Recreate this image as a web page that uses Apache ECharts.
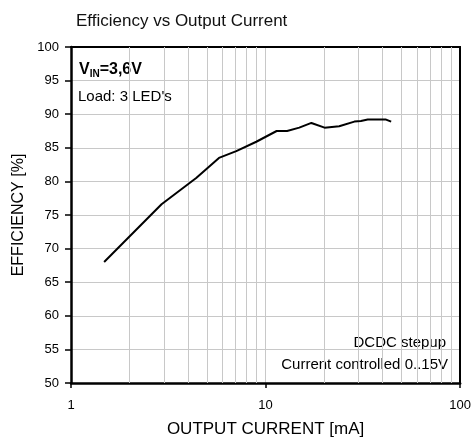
<!DOCTYPE html>
<html>
<head>
<meta charset="utf-8">
<script src="https://cdn.jsdelivr.net/npm/echarts@6/dist/echarts.min.js"></script>
<style>
  html, body { margin: 0; padding: 0; background: #fff; }
  #chart { width: 474px; height: 443px; }
</style>
</head>
<body>
<div id="chart"></div>
<script>
// Output current in mA (log scale) and measured efficiency in %
const currentMA = [1.48, 2.92, 4.4, 5.76, 7.07, 8.96, 11.4, 12.9, 14.9, 17.2, 20.1, 23.9, 28.6, 30.9, 33.5, 41.6, 44.2];
const efficiency = [68.0, 76.6, 80.5, 83.5, 84.5, 85.9, 87.5, 87.5, 88.0, 88.7, 88.0, 88.2, 88.9, 89.0, 89.2, 89.2, 88.9];

// Minor decade grid positions for the log axis
const minorGridX = [2, 3, 4, 5, 6, 7, 8, 9, 20, 30, 40, 50, 60, 70, 80, 90];

const FONT = 'Liberation Sans, Arial, sans-serif';
const GRID_GRAY = '#c8c8c8';

const chart = echarts.init(document.getElementById('chart'), null, { renderer: 'canvas' });

const points = currentMA.map((x, i) => [x, efficiency[i]]);

chart.setOption({
  animation: false,
  backgroundColor: '#fff',
  textStyle: { fontFamily: FONT },
  title: {
    text: 'Efficiency vs Output Current',
    left: 71,
    top: 8,
    textStyle: { fontFamily: FONT, fontSize: 17, fontWeight: 'normal', color: '#111' }
  },
  grid: { left: 71, right: 13, top: 47, bottom: 56, containLabel: false },
  xAxis: [
    {
      type: 'log',
      logBase: 10,
      min: 1,
      max: 100,
      name: 'OUTPUT CURRENT [mA]',
      nameLocation: 'middle',
      nameGap: 38,
      nameTextStyle: { fontFamily: FONT, fontSize: 17, color: '#000' },
      axisLine: { show: true, lineStyle: { color: '#000', width: 2.5 } },
      axisTick: { show: true, length: 5, lineStyle: { color: '#000', width: 1.5 } },
      axisLabel: { margin: 16, fontSize: 13, color: '#000', fontFamily: FONT },
      splitLine: { show: true, lineStyle: { color: GRID_GRAY, width: 1 } }
    },
    {
      type: 'log',
      logBase: 10,
      min: 1,
      max: 100,
      position: 'top',
      axisLine: { show: true, lineStyle: { color: '#000', width: 2 } },
      axisTick: { show: false },
      axisLabel: { show: false },
      splitLine: { show: false }
    }
  ],
  yAxis: [
    {
      type: 'value',
      min: 50,
      max: 100,
      interval: 5,
      name: 'EFFICIENCY [%]',
      nameLocation: 'middle',
      nameGap: 40,
      nameTextStyle: { fontFamily: FONT, fontSize: 16, color: '#000' },
      axisLine: { show: true, lineStyle: { color: '#000', width: 2.5 } },
      axisTick: { show: true, length: 6, lineStyle: { color: '#000', width: 1.5 } },
      axisLabel: { margin: 12, fontSize: 13, color: '#000', fontFamily: FONT },
      splitLine: { show: true, lineStyle: { color: GRID_GRAY, width: 1 } }
    },
    {
      type: 'value',
      min: 50,
      max: 100,
      position: 'right',
      axisLine: { show: true, lineStyle: { color: '#000', width: 2 } },
      axisTick: { show: false },
      axisLabel: { show: false },
      splitLine: { show: false }
    }
  ],
  series: [
    {
      // carries the minor vertical grid lines of the log axis
      type: 'line',
      z: 1,
      data: points,
      symbol: 'none',
      lineStyle: { opacity: 0 },
      silent: true,
      markLine: {
        silent: true,
        symbol: 'none',
        label: { show: false },
        animation: false,
        lineStyle: { color: GRID_GRAY, width: 1, type: 'solid' },
        data: minorGridX.map(v => ({ xAxis: v }))
      }
    },
    {
      type: 'line',
      z: 5,
      data: points,
      symbol: 'none',
      smooth: false,
      lineStyle: { color: '#000', width: 2 }
    }
  ],
  graphic: [
    {
      type: 'text',
      left: 79,
      top: 62,
      style: {
        text: '{v|V}{s|IN}{v|=3,6V}',
        rich: {
          v: { fontFamily: FONT, fontSize: 16, fontWeight: 'bold', fill: '#000', lineHeight: 18 },
          s: { fontFamily: FONT, fontSize: 10, fontWeight: 'bold', fill: '#000', verticalAlign: 'bottom', lineHeight: 14 }
        }
      }
    },
    {
      type: 'text',
      left: 78,
      top: 89,
      style: { text: "Load: 3 LED's", font: '15px ' + FONT, fill: '#000' }
    },
    {
      type: 'text',
      right: 28,
      top: 335,
      style: { text: 'DCDC stepup', font: '15px ' + FONT, fill: '#000', textAlign: 'right' }
    },
    {
      type: 'text',
      right: 26,
      top: 357,
      style: { text: 'Current controlled 0..15V', font: '15px ' + FONT, fill: '#000', textAlign: 'right' }
    }
  ]
});
</script>
</body>
</html>
